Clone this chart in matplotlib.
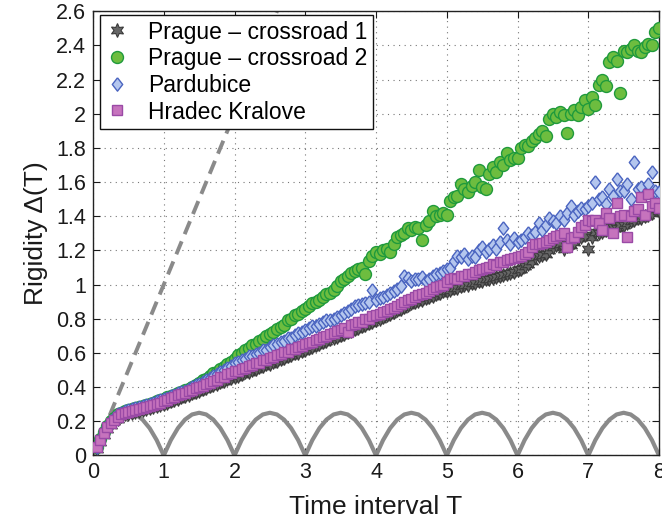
import numpy as np
import matplotlib
matplotlib.use("Agg")
import matplotlib.pyplot as plt
from matplotlib.ticker import FuncFormatter

plt.rcParams['font.family'] = ['Liberation Sans', 'DejaVu Sans']

# ---------------- data ----------------
T = np.round(np.arange(1, 161) * 0.05, 2)   # time interval grid 0.05 .. 8.0

prague1 = [
    0.04, 0.08, 0.12, 0.155, 0.18, 0.20, 0.215, 0.23, 0.24, 0.245, 0.25, 0.255, 0.262, 0.268, 0.272, 0.28, 0.285, 0.29, 0.296, 0.30,
    0.31, 0.318, 0.325, 0.333, 0.342, 0.35, 0.356, 0.365, 0.372, 0.38, 0.388, 0.396, 0.404, 0.412, 0.42, 0.428, 0.436, 0.445, 0.452, 0.46,
    0.468, 0.474, 0.486, 0.49, 0.502, 0.506, 0.518, 0.522, 0.534, 0.538, 0.55, 0.554, 0.566, 0.57, 0.582, 0.586, 0.598, 0.602, 0.614, 0.62,
    0.628, 0.637, 0.645, 0.654, 0.662, 0.671, 0.679, 0.688, 0.696, 0.705, 0.713, 0.722, 0.73, 0.739, 0.747, 0.756, 0.764, 0.773, 0.781, 0.79,
    0.80, 0.81, 0.82, 0.83, 0.84, 0.85, 0.86, 0.87, 0.88, 0.89, 0.90, 0.905, 0.91, 0.92, 0.93, 0.935, 0.945, 0.95, 0.96, 0.965,
    0.97, 0.978, 0.982, 0.99, 0.995, 1.0, 1.008, 1.01, 1.02, 1.022, 1.03, 1.035, 1.04, 1.045, 1.05, 1.055, 1.062, 1.068, 1.075, 1.085,
    1.09, 1.11, 1.12, 1.14, 1.16, 1.17, 1.175, 1.18, 1.20, 1.22, 1.23, 1.24, 1.21, 1.225, 1.23, 1.25, 1.27, 1.28, 1.29, 1.21,
    1.28, 1.31, 1.30, 1.31, 1.32, 1.33, 1.34, 1.33, 1.35, 1.35, 1.36, 1.37, 1.38, 1.39, 1.39, 1.40, 1.41, 1.42, 1.44, 1.43,
]

prague2 = [
    0.05, 0.095, 0.135, 0.17, 0.20, 0.22, 0.24, 0.25, 0.26, 0.265, 0.272, 0.278, 0.285, 0.29, 0.297, 0.303, 0.31, 0.318, 0.325, 0.333,
    0.34, 0.348, 0.356, 0.365, 0.373, 0.382, 0.39, 0.40, 0.41, 0.425, 0.44, 0.45, 0.465, 0.48, 0.49, 0.505, 0.52, 0.535, 0.55, 0.565,
    0.59, 0.60, 0.62, 0.63, 0.645, 0.655, 0.67, 0.68, 0.70, 0.71, 0.725, 0.74, 0.75, 0.765, 0.79, 0.80, 0.82, 0.83, 0.845, 0.86,
    0.875, 0.89, 0.90, 0.91, 0.93, 0.945, 0.95, 0.97, 0.99, 1.02, 1.03, 1.05, 1.07, 1.08, 1.09, 1.10, 1.06, 1.14, 1.17, 1.19,
    1.18, 1.20, 1.21, 1.19, 1.24, 1.28, 1.29, 1.30, 1.33, 1.32, 1.34, 1.33, 1.26, 1.35, 1.37, 1.43, 1.40, 1.41, 1.42, 1.41,
    1.49, 1.51, 1.52, 1.59, 1.56, 1.54, 1.58, 1.60, 1.67, 1.57, 1.56, 1.65, 1.69, 1.66, 1.72, 1.70, 1.77, 1.73, 1.74, 1.74,
    1.80, 1.82, 1.81, 1.84, 1.86, 1.88, 1.90, 1.87, 1.97, 2.00, 1.98, 2.01, 1.99, 1.89, 2.00, 2.02, 1.99, 2.04, 2.08, 2.03,
    2.10, 2.05, 2.17, 2.20, 2.16, 2.30, 2.33, 2.31, 2.12, 2.37, 2.36, 2.38, 2.40, 2.37, 2.36, 2.39, 2.41, 2.40, 2.48, 2.50,
]

pardubice = [
    0.05, 0.095, 0.135, 0.17, 0.20, 0.22, 0.24, 0.25, 0.26, 0.265, 0.272, 0.278, 0.285, 0.29, 0.297, 0.303, 0.31, 0.318, 0.325, 0.332,
    0.338, 0.347, 0.355, 0.363, 0.372, 0.38, 0.39, 0.40, 0.41, 0.42, 0.43, 0.44, 0.452, 0.463, 0.475, 0.487, 0.50, 0.512, 0.525, 0.54,
    0.55, 0.56, 0.565, 0.58, 0.585, 0.595, 0.60, 0.615, 0.62, 0.635, 0.645, 0.65, 0.665, 0.67, 0.685, 0.69, 0.705, 0.715, 0.725, 0.735,
    0.745, 0.755, 0.76, 0.77, 0.78, 0.79, 0.795, 0.80, 0.81, 0.82, 0.835, 0.845, 0.86, 0.875, 0.88, 0.885, 0.89, 0.90, 0.97, 0.91,
    0.92, 0.93, 0.94, 0.95, 0.96, 0.975, 0.99, 1.05, 1.04, 1.02, 1.035, 1.03, 1.045, 1.02, 1.03, 1.05, 1.06, 1.07, 1.08, 1.09,
    1.10, 1.14, 1.17, 1.16, 1.18, 1.15, 1.17, 1.16, 1.20, 1.22, 1.19, 1.21, 1.23, 1.21, 1.25, 1.33, 1.26, 1.24, 1.27, 1.25,
    1.26, 1.28, 1.30, 1.29, 1.31, 1.36, 1.32, 1.35, 1.39, 1.37, 1.36, 1.40, 1.38, 1.42, 1.46, 1.41, 1.43, 1.45, 1.44, 1.46,
    1.48, 1.60, 1.50, 1.51, 1.47, 1.56, 1.52, 1.62, 1.55, 1.55, 1.59, 1.50, 1.72, 1.56, 1.57, 1.53, 1.59, 1.66, 1.55, 1.54,
]

hradec = [
    0.05, 0.09, 0.13, 0.165, 0.19, 0.21, 0.225, 0.24, 0.25, 0.255, 0.26, 0.268, 0.272, 0.28, 0.283, 0.29, 0.298, 0.303, 0.31, 0.318,
    0.327, 0.338, 0.343, 0.354, 0.362, 0.368, 0.379, 0.385, 0.396, 0.402, 0.409, 0.420, 0.426, 0.438, 0.444, 0.457, 0.461, 0.474, 0.480, 0.492,
    0.497, 0.509, 0.512, 0.525, 0.528, 0.541, 0.544, 0.557, 0.560, 0.573, 0.576, 0.590, 0.592, 0.605, 0.608, 0.621, 0.624, 0.637, 0.640, 0.652,
    0.660, 0.665, 0.678, 0.682, 0.695, 0.699, 0.712, 0.716, 0.729, 0.733, 0.746, 0.72, 0.763, 0.767, 0.780, 0.784, 0.797, 0.801, 0.814, 0.822,
    0.828, 0.838, 0.846, 0.858, 0.862, 0.875, 0.885, 0.896, 0.912, 0.918, 0.925, 0.94, 0.948, 0.952, 0.965, 0.972, 0.985, 0.99, 1.0, 1.015,
    1.03, 1.04, 1.035, 1.05, 1.052, 1.06, 1.065, 1.075, 1.085, 1.09, 1.10, 1.105, 1.12, 1.115, 1.13, 1.135, 1.145, 1.15, 1.155, 1.16,
    1.165, 1.18, 1.19, 1.22, 1.235, 1.24, 1.245, 1.25, 1.26, 1.27, 1.285, 1.29, 1.30, 1.22, 1.275, 1.28, 1.31, 1.335, 1.35, 1.38,
    1.37, 1.38, 1.36, 1.32, 1.42, 1.39, 1.30, 1.48, 1.40, 1.41, 1.28, 1.40, 1.43, 1.44, 1.51, 1.41, 1.53, 1.46, 1.48, 1.45,
]

# reference curves: Poisson (dashed) and equidistant spectrum (arches)
poisson_T = [0.0, 2.6]
poisson_D = [0.0, 2.6]
arch_T = np.round(np.arange(0, 81) * 0.1, 1)
arch_D = [
    0, .09, .16, .21, .24, .25, .24, .21, .16, .09,
    0, .09, .16, .21, .24, .25, .24, .21, .16, .09,
    0, .09, .16, .21, .24, .25, .24, .21, .16, .09,
    0, .09, .16, .21, .24, .25, .24, .21, .16, .09,
    0, .09, .16, .21, .24, .25, .24, .21, .16, .09,
    0, .09, .16, .21, .24, .25, .24, .21, .16, .09,
    0, .09, .16, .21, .24, .25, .24, .21, .16, .09,
    0, .09, .16, .21, .24, .25, .24, .21, .16, .09,
    0,
]

labels = ['Prague \u2013 crossroad 1', 'Prague \u2013 crossroad 2', 'Pardubice', 'Hradec Kralove']
x_ticks = [0, 1, 2, 3, 4, 5, 6, 7, 8]
y_ticks = [0, 0.2, 0.4, 0.6, 0.8, 1.0, 1.2, 1.4, 1.6, 1.8, 2.0, 2.2, 2.4, 2.6]

# ---------------- figure ----------------
fig = plt.figure(figsize=(6.62, 5.27), dpi=100)
ax = fig.add_axes([0.1405, 0.1357, 0.855, 0.843])

ax.plot(poisson_T, poisson_D, color='#8a8a8a', lw=2.8, ls=(0, (3.6, 2.0)), zorder=2)
ax.plot(arch_T, arch_D, color='#8a8a8a', lw=3.0, zorder=2, solid_capstyle='round',
        solid_joinstyle='round')

diamond = [(0, 1), (0.78, 0), (0, -1), (-0.78, 0), (0, 1)]

ax.plot(T, prague1, ls='none', marker=(6, 1, 0), ms=10, mfc='#666666', mec='#3a3a3a',
        mew=0.8, label=labels[0], zorder=3)
ax.plot(T, prague2, ls='none', marker='o', ms=8.6, mfc='#6dbd3f', mec='#1f9a3c',
        mew=1.0, label=labels[1], zorder=4)
ax.plot(T, pardubice, ls='none', marker=diamond, ms=9.6, mfc='#b4c6ee', mec='#4a64c0',
        mew=1.0, label=labels[2], zorder=5)
ax.plot(T, hradec, ls='none', marker='s', ms=7.4, mfc='#c673bd', mec='#9a4aa6',
        mew=1.0, label=labels[3], zorder=6)

ax.set_xlim(0, 8)
ax.set_ylim(0, 2.6)
ax.set_xticks(x_ticks)
ax.set_yticks(y_ticks)
ax.yaxis.set_major_formatter(FuncFormatter(lambda v, p: '%g' % round(v, 1)))
ax.xaxis.set_major_formatter(FuncFormatter(lambda v, p: '%g' % v))
ax.tick_params(direction='in', length=5, width=0.8, top=True, right=True,
               labelsize=15.5, colors='#1a1a1a', pad=5)
ax.grid(True, ls=(0, (1, 4)), color='#777777', lw=0.8)
for s in ax.spines.values():
    s.set_linewidth(1.0)
    s.set_color('#222222')

ax.set_xlabel('Time interval T', fontsize=19, color='#1a1a1a', labelpad=8)
ax.set_ylabel('Rigidity \u0394(T)', fontsize=19, color='#1a1a1a', labelpad=6)

leg = ax.legend(loc='upper left', bbox_to_anchor=(0.012, 0.992), borderaxespad=0,
                fontsize=16.5, frameon=True, fancybox=False, framealpha=1,
                edgecolor='#111111', handlelength=1.0, handletextpad=0.85,
                borderpad=0.25, labelspacing=0.16, numpoints=1)
leg.get_frame().set_linewidth(1.0)
leg.set_zorder(10)

fig.savefig('out.png', dpi=100)
